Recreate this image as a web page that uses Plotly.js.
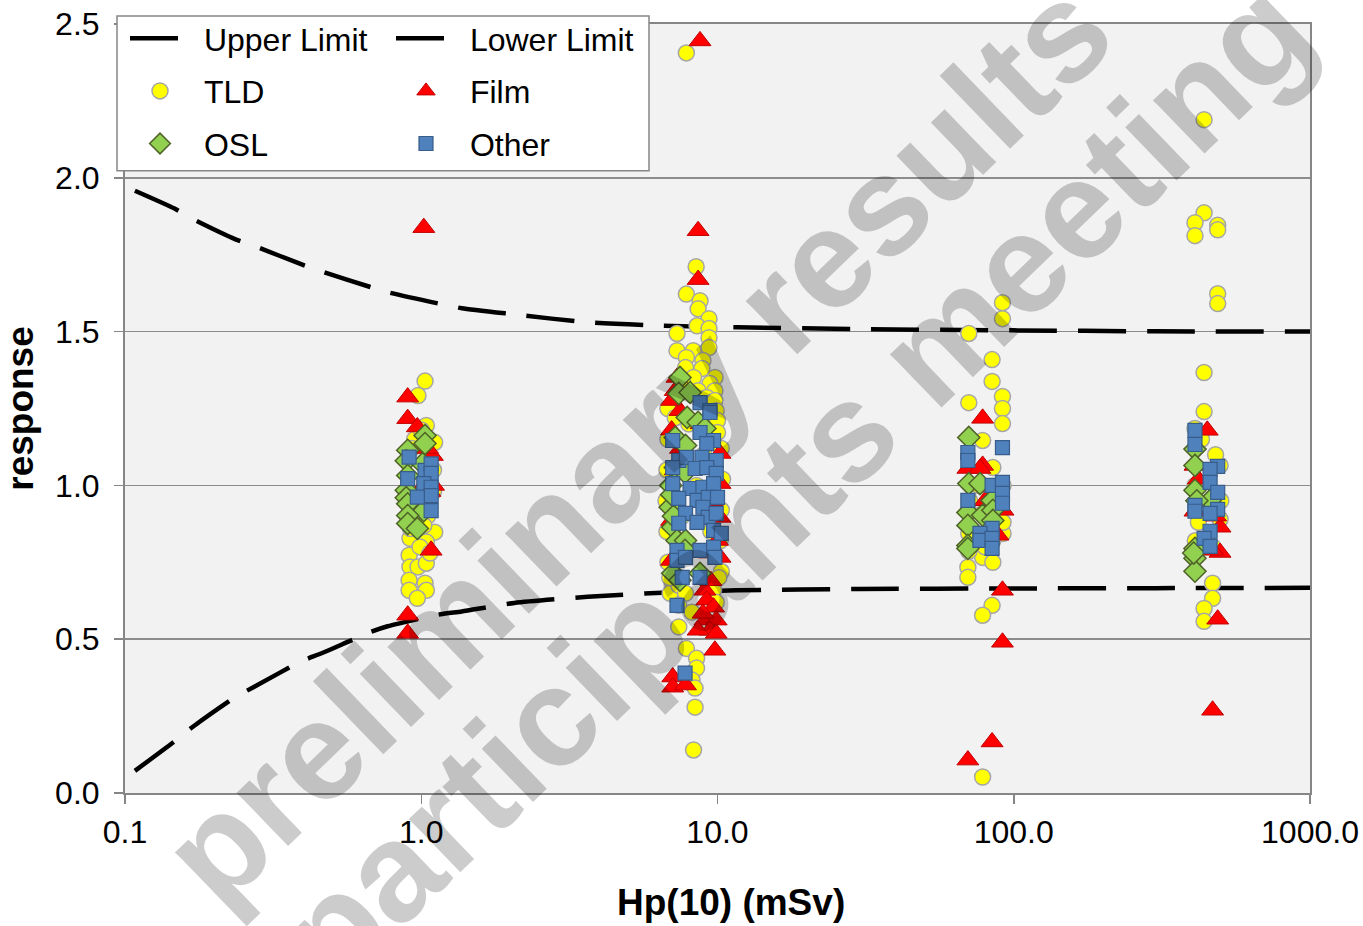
<!DOCTYPE html>
<html>
<head>
<meta charset="utf-8">
<script src="https://cdn.plot.ly/plotly-3.0.1.min.js"></script>
<style>html,body{margin:0;padding:0;background:#fff;}#chart{width:1363px;height:926px;}</style>
</head>
<body>
<div id="chart"></div>
<script>
// Limit curves
const limitX = [0.108, 0.147, 0.17, 0.236, 0.279, 0.391, 0.463, 0.673, 0.77, 1.16, 1.37, 2.06, 3.65, 6.5, 11.6, 30, 100, 300, 1000];
const upperY = [1.958, 1.90, 1.865, 1.80, 1.775, 1.72, 1.695, 1.645, 1.628, 1.59, 1.576, 1.556, 1.53, 1.519, 1.514, 1.508, 1.504, 1.501, 1.50];
const lowerY = [0.072, 0.168, 0.216, 0.312, 0.35, 0.427, 0.455, 0.523, 0.542, 0.581, 0.59, 0.618, 0.638, 0.651, 0.659, 0.663, 0.665, 0.666, 0.667];

// TLD
const tldX = [1.03,0.975,1.04,1.11,0.95,1.11,0.916,1.04,0.91,0.916,0.975,1.04,0.91,1.03,0.91,1.04,0.97,1.0,1.06,0.93,1.08,0.96,1.05,0.92,1.1,0.99,1.07,0.9,1.1,1.02,
  7.85,8.47,7.85,8.73,8.6,9.36,8.53,7.3,9.36,9.36,7.3,8.28,9.36,7.85,8.93,7.8,8.86,9.81,8.3,9.43,7.65,9.8,8.6,9.2,9.8,9.9,10.0,10.0,
  7.06,6.92,9.7,7.4,7.8,7.4,7.4,8.2,7.85,8.5,8.5,8.2,8.4,8.4,8.3,
  6.8,6.8,6.75,6.7,6.75,6.8,10.3,10.4,10.3,10.2,10.3,8.0,9.0,7.6,9.5,8.5,7.2,6.9,10.1,9.9,
  91.6,91.6,70.5,84.5,84.5,91.6,91.6,91.6,70.5,78.5,85,92,70,70,78.5,85,84.5,78.5,78.5,70.5,70.5,78.5,92,85,76,92,71,80,
  439,439,409,488,409,488,488,488,439,439,409,469,469,439,439,497,497,469,409,420,480,500,430,470,410];
const tldY = [1.339,1.292,1.195,1.14,1.15,0.848,0.828,0.816,0.773,0.735,0.735,0.747,0.692,0.682,0.659,0.659,0.633,1.18,1.1,1.12,1.0,0.95,0.9,0.86,0.98,0.8,0.78,0.88,1.05,0.87,
  2.406,1.711,1.622,1.60,1.574,1.542,1.519,1.494,1.51,1.48,1.438,1.438,1.448,1.416,1.406,1.383,1.38,1.351,1.351,1.331,1.331,1.308,1.308,1.286,1.276,1.243,1.211,1.172,
  0.682,0.649,0.659,0.675,0.649,0.61,0.54,0.588,0.47,0.438,0.406,0.367,0.341,0.279,0.14,
  1.25,1.15,1.05,0.95,0.85,0.75,1.12,1.02,0.92,0.82,0.72,1.2,1.1,0.9,0.85,1.0,1.22,0.7,0.7,0.62,
  1.594,1.542,1.494,1.409,1.338,1.289,1.25,1.201,1.269,1.146,1.058,0.844,0.734,0.701,0.766,0.75,0.61,0.578,0.052,0.844,0.786,0.909,0.88,0.82,1.0,1.0,0.95,0.8,
  2.189,1.886,1.854,1.846,1.812,1.831,1.623,1.591,1.367,1.24,1.185,0.682,0.633,0.60,0.558,1.065,0.89,0.95,1.0,0.88,1.1,0.95,1.15,0.8,0.82];

// Film
const filmX = [0.90,0.90,0.97,1.09,1.08,0.90,0.90,1.02,1.07,0.97,1.05,1.1,
  8.73,8.6,8.6,7.3,7.2,7.47,7.0,7.0,7.2,7.0,7.0,10.2,10.2,10.2,10.0,10.2,9.07,9.2,9.7,9.07,9.9,9.43,9.9,8.6,9.8,8.93,7.06,7.06,7.8,9.5,8.8,9.6,7.5,9.4,
  78.5,78.5,70,92,88.5,91.6,91.6,84.5,70,76.9,80,
  450,409,409,497,497,469,488,469,480,420];
const filmY = [1.287,1.217,1.19,1.097,0.789,0.578,0.519,1.838,0.98,0.974,1.12,1.0,
  2.445,1.828,1.669,1.351,1.308,1.243,1.276,1.18,1.05,0.886,0.756,1.104,1.006,0.896,0.821,0.766,0.659,0.627,0.604,0.562,0.562,0.529,0.519,0.529,0.464,0.584,0.377,0.344,0.351,0.69,1.2,0.95,1.12,0.78,
  1.218,1.065,1.055,0.919,0.838,0.659,0.49,0.166,0.107,1.055,0.95,
  1.179,1.065,0.916,0.864,0.782,0.789,0.565,0.269,0.9,1.02];

// OSL
const oslX = [1.03,1.03,0.90,0.89,1.01,0.90,0.89,0.89,0.90,1.02,0.90,0.90,0.97,
  7.47,7.4,8.08,7.9,8.6,9.07,7.2,7.8,7.2,7.77,6.92,7.06,7.3,7.8,7.77,7.06,8.73,7.47,6.95,7.0,7.1,
  70.5,70.5,76.9,84.5,70,78.5,85,70,85,70,70,
  409,409,409,460,409,409,409,405,415];
const oslY = [1.162,1.136,1.114,1.08,1.07,1.032,0.984,0.96,0.94,0.918,0.902,0.876,0.86,
  1.351,1.299,1.302,1.221,1.205,1.185,1.156,1.13,1.058,1.042,0.929,0.864,0.821,0.821,0.789,0.714,0.714,0.692,1.0,0.97,0.9,
  1.156,1.006,1.006,0.951,0.912,0.903,0.919,0.87,0.886,0.805,0.795,
  1.118,1.065,0.984,0.951,0.795,0.763,0.721,0.78,0.95];

// Other
const otherX = [0.91,0.90,1.03,1.08,1.08,1.02,1.08,1.08,0.97,1.08,
  8.73,9.43,9.43,8.73,7.06,9.7,9.2,7.4,7.85,8.86,9.9,7.06,8.4,9.2,9.9,7.06,8.08,8.93,9.7,7.4,8.53,9.3,10.0,7.8,8.93,9.3,9.9,7.4,8.53,9.7,10.3,7.3,8.73,9.7,9.8,7.3,7.8,7.6,8.73,7.3,7.77,
  91.6,70,70,84.5,91.6,91.6,91.6,70,84.5,76.9,76.9,84.5,84.5,
  409,409,488,460,460,488,409,409,488,460,460,439,460];
const otherY = [1.092,1.022,1.049,1.07,1.039,1.006,0.994,0.967,0.962,0.918,
  1.269,1.243,1.237,1.172,1.146,1.146,1.136,1.081,1.091,1.091,1.081,1.058,1.055,1.058,1.039,1.006,0.99,0.994,1.006,0.958,0.951,0.961,0.961,0.909,0.929,0.896,0.909,0.877,0.88,0.854,0.844,0.789,0.789,0.799,0.766,0.756,0.766,0.701,0.701,0.61,0.39,
  1.123,1.107,1.081,1.0,1.01,0.974,0.942,0.951,0.86,0.844,0.821,0.828,0.795,
  1.179,1.133,1.062,1.052,1.01,0.977,0.935,0.916,0.922,0.909,0.851,0.828,0.802];

const tickVals = [0.1, 1, 10, 100, 1000];
const tickText = ['0.1', '1.0', '10.0', '100.0', '1000.0'];
const yTickVals = [0, 0.5, 1.0, 1.5, 2.0, 2.5];
const yTickText = ['0.0', '0.5', '1.0', '1.5', '2.0', '2.5'];

const FONT = 'Liberation Sans, Arial, sans-serif';
const NB = '\u00a0';
const dashStyle = {color: '#000', width: 4.5, dash: '48px,21px', shape: 'spline', smoothing: 0.6};

const traces = [
  {x: limitX, y: upperY, name: NB + 'Upper Limit', mode: 'lines', line: dashStyle, legend: 'legend', legendgroup: 'g1'},
  {x: limitX, y: lowerY, name: NB + 'Lower Limit', mode: 'lines', line: dashStyle, legend: 'legend2', legendgroup: 'g2'},
  {x: tldX, y: tldY, name: NB + 'TLD', mode: 'markers', legend: 'legend', legendgroup: 'g3',
   marker: {symbol: 'circle', size: 16, color: '#ffff00', line: {color: '#a6a6a6', width: 1.5}}},
  {x: filmX, y: filmY, name: NB + 'Film', mode: 'markers', legend: 'legend2', legendgroup: 'g4',
   marker: {symbol: 'triangle-up', size: 19, color: '#ff0000', line: {color: '#c00000', width: 1}}},
  {x: oslX, y: oslY, name: NB + 'OSL', mode: 'markers', legend: 'legend', legendgroup: 'g5',
   marker: {symbol: 'diamond', size: 17, color: '#92d050', line: {color: '#4f6228', width: 1.5}}},
  {x: otherX, y: otherY, name: NB + 'Other', mode: 'markers', legend: 'legend2', legendgroup: 'g6',
   marker: {symbol: 'square', size: 14, color: '#4f81bd', line: {color: '#385d8a', width: 1.2}}}
];

const L = 125, R = 53, T = 23, B = 133, W = 1363, H = 926;
const pw = W - L - R, ph = H - T - B;
const px2x = p => (p - L) / pw;
const px2y = p => (H - B - p) / ph;

const legendCommon = {
  xanchor: 'left', yanchor: 'top', bgcolor: 'rgba(0,0,0,0)', borderwidth: 0,
  font: {family: FONT, size: 32, color: '#000'}, tracegroupgap: 8, itemwidth: 60,
  orientation: 'v', itemclick: false
};

const layout = {
  width: W, height: H,
  margin: {l: L, r: R, t: T, b: B, pad: 0},
  paper_bgcolor: '#ffffff',
  plot_bgcolor: '#f2f2f2',
  font: {family: FONT, size: 32, color: '#000'},
  showlegend: true,
  xaxis: {
    type: 'log', range: [-1, 3], tickvals: tickVals, ticktext: tickText,
    ticks: 'outside', ticklen: 9, tickwidth: 1.5, tickcolor: '#868686',
    showline: true, linecolor: '#868686', linewidth: 2, mirror: true,
    showgrid: false, zeroline: false, ticklabelstandoff: 1,
    tickfont: {family: FONT, size: 32, color: '#000'}
  },
  yaxis: {
    range: [0, 2.5], tickvals: yTickVals, ticktext: yTickText,
    ticks: 'outside', ticklen: 9, tickwidth: 1.5, tickcolor: '#868686',
    showline: true, linecolor: '#868686', linewidth: 2, mirror: true,
    showgrid: true, gridcolor: '#8c8c8c', gridwidth: 1.5, zeroline: false, ticklabelstandoff: 8,
    tickfont: {family: FONT, size: 32, color: '#000'},
    title: {text: '<b>response</b>', font: {family: FONT, size: 37, color: '#000'}, standoff: 18}
  },
  legend: Object.assign({x: px2x(125), y: px2y(11)}, legendCommon),
  legend2: Object.assign({x: px2x(391), y: px2y(11)}, legendCommon),
  shapes: [{
    type: 'rect', xref: 'paper', yref: 'paper', layer: 'above',
    x0: px2x(117), x1: px2x(649), y0: px2y(170), y1: px2y(15),
    fillcolor: '#ffffff', line: {color: '#868686', width: 1.5}
  }],
  annotations: [
    {text: '<b>Hp(10) (mSv)</b>', xref: 'paper', yref: 'paper', x: px2x(731), y: px2y(903),
     xanchor: 'center', yanchor: 'middle', showarrow: false,
     font: {family: FONT, size: 37, color: '#000'}},
    {text: '<b>preliminary results</b>', xref: 'paper', yref: 'paper', x: px2x(636), y: px2y(442),
     xanchor: 'center', yanchor: 'middle', showarrow: false, textangle: -44,
     font: {family: FONT, size: 140, color: 'rgba(0,0,0,0.2)'}},
    {text: '<b>participants meeting</b>', xref: 'paper', yref: 'paper', x: px2x(794), y: px2y(482),
     xanchor: 'center', yanchor: 'middle', showarrow: false, textangle: -44,
     font: {family: FONT, size: 140, color: 'rgba(0,0,0,0.2)'}}
  ]
};

Plotly.newPlot('chart', traces, layout, {displayModeBar: false, staticPlot: true});
</script>
</body>
</html>
